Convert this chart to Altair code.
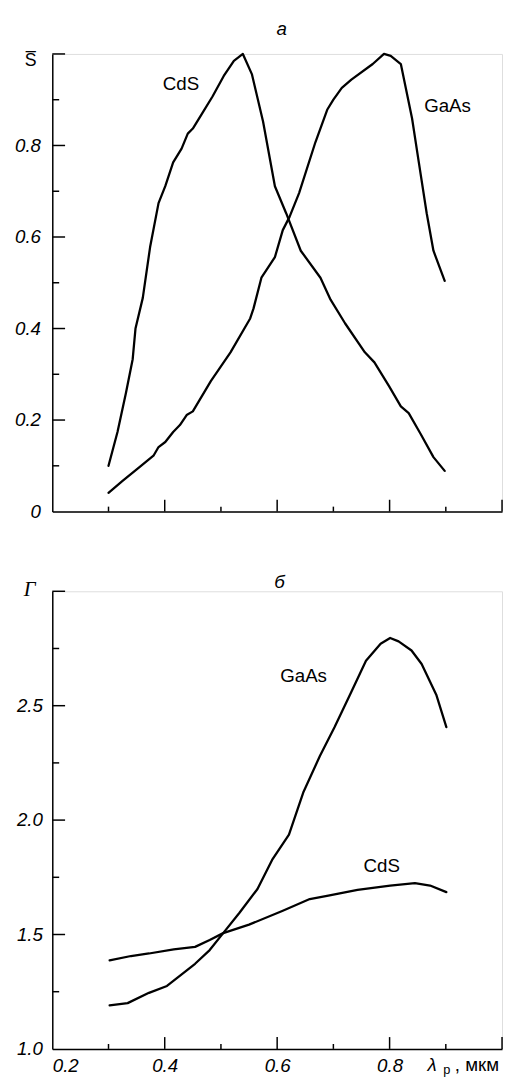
import altair as alt
import pandas as pd

# ---- panel "а": relative sensitivity S̄ vs wavelength ----
top_cds_x = [0.300, 0.316, 0.331, 0.343, 0.348, 0.361, 0.374, 0.389, 0.401, 0.415, 0.430,
             0.441, 0.450, 0.465, 0.485, 0.505, 0.523, 0.539, 0.555, 0.575, 0.596, 0.616,
             0.642, 0.677, 0.695, 0.721, 0.756, 0.773, 0.799, 0.820, 0.834, 0.855, 0.878, 0.898]
top_cds_y = [0.100, 0.174, 0.259, 0.333, 0.400, 0.467, 0.578, 0.674, 0.711, 0.763, 0.793,
             0.826, 0.837, 0.867, 0.907, 0.952, 0.985, 1.000, 0.956, 0.852, 0.711, 0.652,
             0.570, 0.511, 0.463, 0.411, 0.348, 0.326, 0.274, 0.230, 0.215, 0.170, 0.119, 0.089]

top_gaas_x = [0.300, 0.325, 0.354, 0.380, 0.389, 0.401, 0.415, 0.427, 0.439, 0.450, 0.482,
              0.517, 0.552, 0.558, 0.572, 0.596, 0.610, 0.622, 0.639, 0.668, 0.689, 0.700,
              0.715, 0.732, 0.770, 0.790, 0.802, 0.820, 0.840, 0.852, 0.866, 0.878, 0.898]
top_gaas_y = [0.041, 0.067, 0.096, 0.122, 0.141, 0.152, 0.174, 0.189, 0.211, 0.219, 0.285,
              0.348, 0.422, 0.444, 0.511, 0.556, 0.615, 0.644, 0.696, 0.807, 0.878, 0.900,
              0.926, 0.944, 0.978, 1.000, 0.996, 0.978, 0.859, 0.763, 0.652, 0.570, 0.504]

# ---- panel "б": Γ vs wavelength ----
bot_gaas_x = [0.302, 0.334, 0.372, 0.404, 0.454, 0.480, 0.504, 0.533, 0.565, 0.591, 0.621,
              0.647, 0.676, 0.702, 0.731, 0.758, 0.784, 0.801, 0.816, 0.839, 0.857, 0.883, 0.901]
bot_gaas_y = [1.190, 1.200, 1.245, 1.275, 1.372, 1.432, 1.506, 1.595, 1.699, 1.826, 1.937,
              2.124, 2.280, 2.406, 2.555, 2.696, 2.771, 2.796, 2.781, 2.741, 2.682, 2.548, 2.406]

bot_cds_x = [0.302, 0.340, 0.372, 0.416, 0.454, 0.480, 0.504, 0.550, 0.609, 0.658, 0.691,
             0.743, 0.801, 0.845, 0.872, 0.901]
bot_cds_y = [1.387, 1.406, 1.417, 1.435, 1.446, 1.476, 1.506, 1.543, 1.603, 1.655, 1.670,
             1.695, 1.714, 1.725, 1.714, 1.685]

# curve labels
top_labels = ["CdS", "GaAs"]
top_label_x = [0.429, 0.903]
top_label_y = [0.935, 0.885]
bot_labels = ["GaAs", "CdS"]
bot_label_x = [0.647, 0.786]
bot_label_y = [2.629, 1.799]

# axis ticks
x_major = [0.4, 0.6, 0.8, 1.0]
x_minor = [0.3, 0.5, 0.7, 0.9]
x_labels = [0.2, 0.4, 0.6, 0.8]
top_y_major = [0.2, 0.4, 0.6, 0.8, 1.0]
top_y_minor = [0.1, 0.3, 0.5, 0.7, 0.9]
top_y_labels = [0.0, 0.2, 0.4, 0.6, 0.8]
bot_y_major = [1.5, 2.0, 2.5, 3.0]
bot_y_minor = [1.25, 1.75, 2.25, 2.75]
bot_y_labels = [1.0, 1.5, 2.0, 2.5]

W, H = 457, 465
SANS = "Liberation Sans"
LW = 2.3
TICKFS = 19

def lines_df(pairs):
    rows = []
    for name, xs, ys in pairs:
        for x, y in zip(xs, ys):
            rows.append({"series": name, "x": x, "y": y})
    return pd.DataFrame(rows)

def panel(line_data, xdom, ydom, xaxis, yaxis, ymajor, yminor, lab_names, lab_x, lab_y,
          title, title_x, title_y):
    xs = alt.Scale(domain=xdom, nice=False, zero=False)
    ys = alt.Scale(domain=ydom, nice=False, zero=False)
    base_line = alt.Chart(line_data).mark_line(color="black", strokeWidth=LW,
                                               strokeJoin="round", strokeCap="round").encode(
        x=alt.X("x:Q", scale=xs, axis=xaxis),
        y=alt.Y("y:Q", scale=ys, axis=yaxis),
        detail="series:N",
    )
    xmaj = alt.Chart(pd.DataFrame({"v": x_major})).mark_rule(color="black", strokeWidth=1.5).encode(
        x=alt.X("v:Q", scale=xs), y=alt.value(H), y2=alt.value(H - 12))
    xmin = alt.Chart(pd.DataFrame({"v": x_minor})).mark_rule(color="black", strokeWidth=1.5).encode(
        x=alt.X("v:Q", scale=xs), y=alt.value(H), y2=alt.value(H - 5))
    ymaj = alt.Chart(pd.DataFrame({"v": ymajor})).mark_rule(color="black", strokeWidth=1.5).encode(
        y=alt.Y("v:Q", scale=ys), x=alt.value(0), x2=alt.value(13))
    ymin = alt.Chart(pd.DataFrame({"v": yminor})).mark_rule(color="black", strokeWidth=1.5).encode(
        y=alt.Y("v:Q", scale=ys), x=alt.value(0), x2=alt.value(7))
    labs = alt.Chart(pd.DataFrame({"t": lab_names, "x": lab_x, "y": lab_y})).mark_text(
        font=SANS, fontSize=19, color="black", align="center", baseline="middle").encode(
        x=alt.X("x:Q", scale=xs), y=alt.Y("y:Q", scale=ys), text="t:N")
    ttl = alt.Chart(pd.DataFrame({"t": [title]})).mark_text(
        font=SANS, fontSize=19, fontStyle="italic", color="black", align="center",
        baseline="middle").encode(x=alt.value(title_x), y=alt.value(title_y), text="t:N")
    return [base_line, xmaj, xmin, ymaj, ymin, labs, ttl], xs, ys

# ---------- top panel ----------
top_df = lines_df([("CdS", top_cds_x, top_cds_y), ("GaAs", top_gaas_x, top_gaas_y)])
top_xaxis = alt.Axis(labels=False, ticks=False, grid=False, domain=True, domainColor="black",
                     domainWidth=1.5, title=None)
top_yaxis = alt.Axis(values=top_y_labels, ticks=False, grid=False, domain=True, domainColor="black",
                     domainWidth=1.5, title=None, labelFont=SANS, labelFontSize=TICKFS,
                     labelFontStyle="italic", labelColor="black", labelPadding=12,
                     labelExpr="datum.value == 0 ? '0' : format(datum.value, '.1f')")
top_layers, txs, tys = panel(top_df, [0.2, 1.0], [0.0, 1.0], top_xaxis, top_yaxis,
                             top_y_major, top_y_minor, top_labels, top_label_x, top_label_y,
                             "а", 233, -25)
s_bar = alt.Chart(pd.DataFrame({"t": ["S\u0305"], "y": [1.0]})).mark_text(
    font=SANS, fontSize=18, color="black", align="center", baseline="middle", dy=7).encode(
    x=alt.value(-22), y=alt.Y("y:Q", scale=tys), text="t:N")
top = alt.layer(*top_layers, s_bar).properties(width=W, height=H)

# ---------- bottom panel ----------
bot_df = lines_df([("GaAs", bot_gaas_x, bot_gaas_y), ("CdS", bot_cds_x, bot_cds_y)])
bot_xaxis = alt.Axis(values=x_labels, ticks=False, grid=False, domain=True, domainColor="black",
                     domainWidth=1.5, title=None, labelFont=SANS, labelFontSize=TICKFS,
                     labelFontStyle="italic", labelColor="black", labelPadding=8, format=".1f")
bot_yaxis = alt.Axis(values=bot_y_labels, ticks=False, grid=False, domain=True, domainColor="black",
                     domainWidth=1.5, title=None, labelFont=SANS, labelFontSize=TICKFS,
                     labelFontStyle="italic", labelColor="black", labelPadding=10, format=".1f")
bot_layers, bxs, bys = panel(bot_df, [0.2, 1.0], [1.0, 3.0], bot_xaxis, bot_yaxis,
                             bot_y_major, bot_y_minor, bot_labels, bot_label_x, bot_label_y,
                             "б", 231, -9)
gamma = alt.Chart(pd.DataFrame({"t": ["Γ"], "y": [3.0]})).mark_text(
    font="Liberation Serif", fontSize=21, fontStyle="italic", color="black",
    align="center", baseline="middle", dy=-1).encode(
    x=alt.value(-23), y=alt.Y("y:Q", scale=bys), text="t:N")
unit_df = pd.DataFrame({"x": [1.0]})
lam = alt.Chart(unit_df).mark_text(font=SANS, fontSize=19, fontStyle="italic", color="black",
                                   align="center", baseline="middle", dx=-71).encode(
    x=alt.X("x:Q", scale=bxs), y=alt.value(H + 16), text=alt.value("λ"))
sub = alt.Chart(unit_df).mark_text(font=SANS, fontSize=13, color="black",
                                   align="center", baseline="middle", dx=-56).encode(
    x=alt.X("x:Q", scale=bxs), y=alt.value(H + 21), text=alt.value("p"))
unit = alt.Chart(unit_df).mark_text(font=SANS, fontSize=19, color="black",
                                    align="left", baseline="middle", dx=-48).encode(
    x=alt.X("x:Q", scale=bxs), y=alt.value(H + 16), text=alt.value(", мкм"))
bottom = alt.layer(*bot_layers, gamma, lam, sub, unit).properties(width=W, height=H)

chart = alt.vconcat(top, bottom, spacing=81, bounds="flush").properties(
    padding={"left": 6, "top": 3, "right": 0, "bottom": 0}
).configure_view(stroke=None).configure(background="white")

chart.save("out.html", embed_options={"renderer": "svg", "actions": False})
